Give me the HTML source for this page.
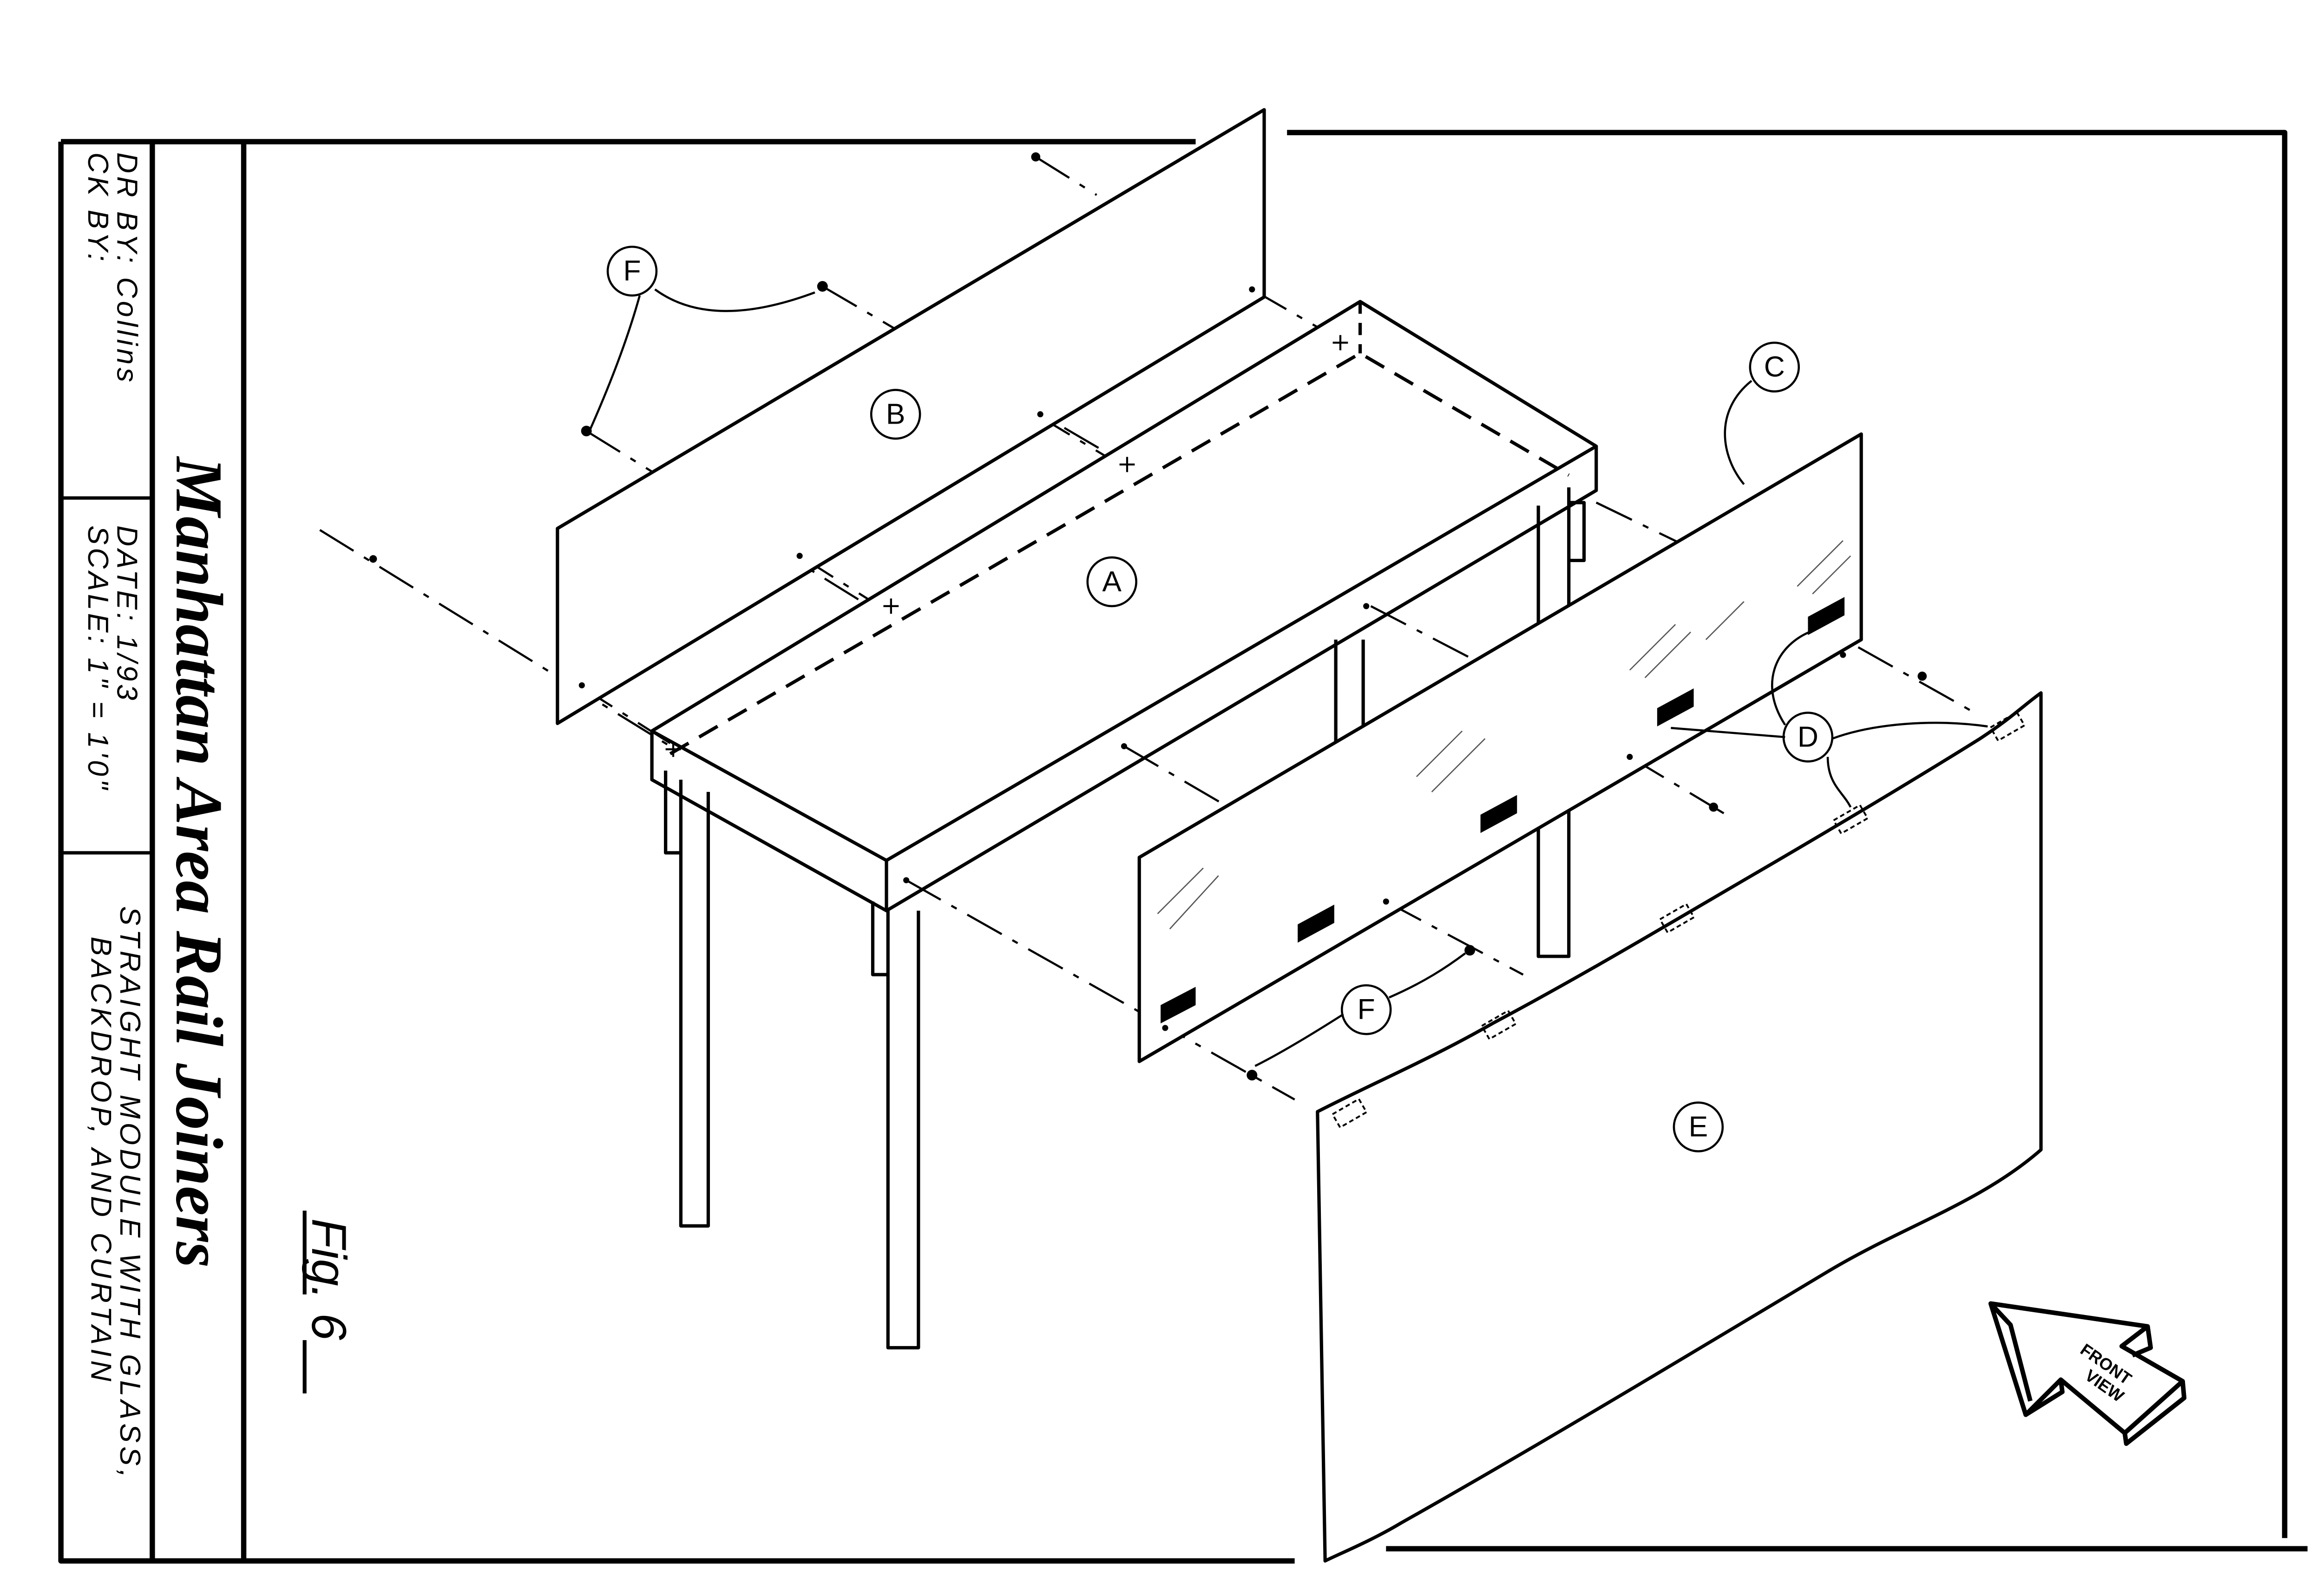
<!DOCTYPE html>
<html><head><meta charset="utf-8"><style>html,body{margin:0;padding:0;background:#fff}svg{display:block}</style></head>
<body>
<svg xmlns="http://www.w3.org/2000/svg" width="5088" height="3436" viewBox="0 0 1552 1048">
<g fill="none" stroke="#000" stroke-width="2.2" stroke-linejoin="round">
<path d="M40 93 H785 M845 87 H1500 V1010 M40 93 V1025 H850 M910 1017 H1515" stroke-width="3.5"/>
<path d="M100 93 V1025 M160 93 V1025" stroke-width="3.5"/>
<path d="M40 327 H100 M40 560 H100"/>
<g stroke-dasharray="26 8 4 8" stroke-width="1.4">
<path d="M210 348 L440 490"/>
<path d="M385 283 L590 410"/>
<path d="M540 188 L868 380"/>
<path d="M680 103 L720 128"/>
<path d="M680 272 L810 350"/>
<path d="M525 365 L620 425"/>
<path d="M380 450 L440 488"/>
<path d="M738 490 L810 532"/>
<path d="M595 578 L850 722"/>
<path d="M910 592 L1000 640"/>
<path d="M900 398 L1000 450"/>
<path d="M1220 425 L1300 470"/>
<path d="M1070 497 L1135 536"/>
<path d="M822 190 L900 235"/>
<path d="M1048 330 L1110 360"/>
</g>
<path d="M428 480 L893 198 L1048 293 L582 565 Z" fill="#fff"/>
<path d="M428 480 V512 L582 598 V565 M582 598 L1048 322 V293"/>
<path d="M440 495 L893 232 L1030 312" stroke-dasharray="14 8"/>
<path d="M893 198 V232" stroke-dasharray="8 6"/>
<path d="M447 512 V805 H465 V520 M437 506 V560 H447 M465 560 V530"/>
<path d="M583 598 V885 H603 V598 M573 592 V640 H583"/>
<path d="M1010 332 V628 H1030 V320 M1030 330 H1040 V368 H1030"/>
<path d="M877 420 V550 H895 V420"/>
<path d="M366 347 L830 72 V195 L366 475 Z" fill="#fff"/>
<path d="M748 563 L1222 285 V420 L748 697 Z" fill="#fff"/>
<g stroke-width="0.8" stroke="#555">
<path d="M760 600 L790 570 M768 610 L800 575 M930 510 L960 480 M940 520 L975 485 M1070 440 L1100 410 M1080 445 L1110 415 M1180 385 L1210 355 M1190 390 L1215 365 M1120 420 L1145 395"/>
</g>
<g fill="#000" stroke="none">
<path d="M762 660 L785 648 V660 L762 672 Z"/>
<path d="M852 607 L876 594 V606 L852 619 Z"/>
<path d="M972 535 L996 522 V534 L972 547 Z"/>
<path d="M1088 465 L1112 452 V464 L1088 477 Z"/>
<path d="M1187 405 L1211 392 V404 L1187 417 Z"/>
</g>
<path d="M865 730 C900 712 940 695 980 672 C1040 640 1090 610 1150 575 C1210 540 1260 510 1300 485 C1320 472 1330 462 1340 455 V755 C1300 790 1250 805 1200 835 C1100 895 1000 955 920 1000 C900 1012 880 1020 870 1025 L865 730 Z" fill="#fff"/>
<g stroke-dasharray="3 2" stroke-width="1.2">
<rect x="876" y="726" width="20" height="10" transform="rotate(-30 886 731)"/>
<rect x="974" y="668" width="20" height="10" transform="rotate(-30 984 673)"/>
<rect x="1091" y="598" width="20" height="10" transform="rotate(-30 1101 603)"/>
<rect x="1205" y="533" width="20" height="10" transform="rotate(-30 1215 538)"/>
<rect x="1308" y="472" width="20" height="10" transform="rotate(-30 1318 477)"/>
</g>
<g stroke-width="1.3">
<path d="M875 225 h10 M880 220 v10 M735 305 h10 M740 300 v10 M580 398 h10 M585 393 v10 M437 492 h10 M442 487 v10"/>
</g>
<g fill="#000" stroke="none">
<circle cx="680" cy="103" r="3"/><circle cx="540" cy="188" r="3.5"/><circle cx="385" cy="283" r="3.5"/>
<circle cx="245" cy="367" r="2.5"/><circle cx="822" cy="190" r="2"/><circle cx="683" cy="272" r="2"/>
<circle cx="525" cy="365" r="2"/><circle cx="382" cy="450" r="2"/><circle cx="595" cy="578" r="2"/>
<circle cx="738" cy="490" r="2"/><circle cx="897" cy="398" r="2"/><circle cx="1070" cy="497" r="2"/>
<circle cx="910" cy="592" r="2"/><circle cx="765" cy="675" r="2"/><circle cx="1210" cy="430" r="2"/>
<circle cx="965" cy="624" r="3.5"/><circle cx="822" cy="706" r="3.5"/><circle cx="1125" cy="530" r="3"/><circle cx="1262" cy="444" r="3"/>
</g>
<g fill="#fff" stroke-width="1.4">
<circle cx="415" cy="178" r="16"/><circle cx="588" cy="272" r="16"/><circle cx="730" cy="382" r="16"/>
<circle cx="1165" cy="241" r="16"/><circle cx="1187" cy="484" r="16"/><circle cx="1115" cy="740" r="16"/><circle cx="897" cy="663" r="16"/>
</g>
<g stroke-width="1.4">
<path d="M430 190 C460 212 500 205 535 192"/>
<path d="M420 194 C410 230 395 265 387 283"/>
<path d="M1150 250 C1125 270 1130 300 1145 318"/>
<path d="M1172 476 C1155 450 1165 425 1188 415"/>
<path d="M1172 484 L1097 478"/>
<path d="M1203 485 C1230 475 1270 472 1305 477"/>
<path d="M1200 497 C1200 515 1210 520 1215 530"/>
<path d="M882 666 C860 680 840 692 824 700"/>
<path d="M912 655 C935 645 950 635 962 626"/>
</g>
<path d="M1307 856 L1410 871 L1393 884 L1433 907 L1395 941 L1353 906 L1330 929 Z" fill="#fff" stroke-width="3"/>
<path d="M1307 856 L1320 870 L1333 920 M1410 871 L1412 885 L1400 890 M1433 907 L1434 918 L1396 948 L1395 941 M1353 906 L1354 914 L1330 929" stroke-width="3"/>
</g>
<g font-family="Liberation Sans, sans-serif" fill="#000">
<g font-size="19" text-anchor="middle" dominant-baseline="central">
<text x="415" y="178">F</text><text x="588" y="272">B</text><text x="730" y="382">A</text>
<text x="1165" y="241">C</text><text x="1187" y="484">D</text><text x="1115" y="740">E</text><text x="897" y="663">F</text>
</g>
<text font-size="11" font-weight="bold" transform="translate(1365 888) rotate(35)">FRONT</text>
<text font-size="11" font-weight="bold" transform="translate(1368 905) rotate(35)">VIEW</text>
<g font-style="italic" font-size="19" letter-spacing="2">
<text transform="translate(77 100) rotate(90)">DR BY: Collins</text>
<text transform="translate(58 100) rotate(90)">CK BY:</text>
<text transform="translate(77 345) rotate(90)">DATE:  1/93</text>
<text transform="translate(58 345) rotate(90)">SCALE:  1" = 1'0"</text>
<text transform="translate(79 595) rotate(90)" letter-spacing="2.5">STRAIGHT MODULE WITH GLASS,</text>
<text transform="translate(60 615) rotate(90)" letter-spacing="2.5">BACKDROP, AND CURTAIN</text>
</g>
<text font-family="Liberation Serif, serif" font-style="italic" font-weight="bold" font-size="44" transform="translate(116 300) rotate(90)">Manhattan Area Rail Joiners</text>
<text font-size="32" font-style="italic" transform="translate(205 800) rotate(90)">Fig. 6</text>
</g>
<path d="M200 795 V850 M200 880 V915" stroke="#000" stroke-width="2.5"/>
</svg>
</body></html>
